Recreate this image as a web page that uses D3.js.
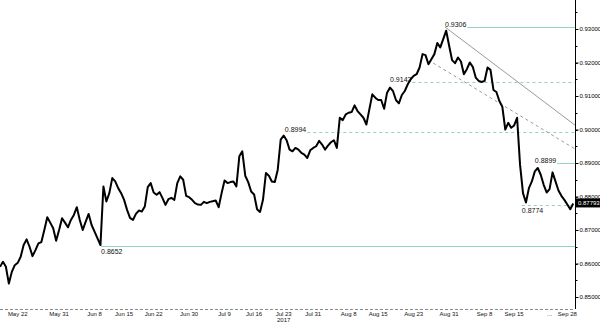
<!DOCTYPE html>
<html>
<head>
<meta charset="utf-8">
<script src="https://cdn.jsdelivr.net/npm/d3@7"></script>
<style>
    html, body { margin: 0; padding: 0; background: #fff; }
    #chart { width: 600px; height: 323px; }
    text { font-family: "Liberation Sans", Arial, sans-serif; }
</style>
</head>
<body>
<div id="chart"></div>
<script>
// --- EUR/GBP style price chart, May - Sep 2017 ---

// x values are trading days (weekdays) counted from Mon 22 May 2017
const seriesStart = -3;
const seriesStep = 0.5;
const closes = [
    0.8590, 0.8605, 0.8590, 0.8540, 0.8575, 0.8595, 0.8602, 0.8620, 0.8655, 0.8672,
    0.8650, 0.8622, 0.8640, 0.8660, 0.8664, 0.8700, 0.8738, 0.8722, 0.8705, 0.8668,
    0.8700, 0.8735, 0.8722, 0.8708, 0.8730, 0.8745, 0.8768, 0.8730, 0.8700, 0.8725,
    0.8748, 0.8715, 0.8695, 0.8675, 0.8655, 0.8830, 0.8785, 0.8810, 0.8855, 0.8845,
    0.8825, 0.8810, 0.8790, 0.8760, 0.8736, 0.8730, 0.8748, 0.8758, 0.8755, 0.8770,
    0.8828, 0.8840, 0.8812, 0.8805, 0.8813, 0.8795, 0.8775, 0.8792, 0.8796, 0.8790,
    0.8840, 0.8860, 0.8850, 0.8802, 0.8798, 0.8790, 0.8780, 0.8776, 0.8775, 0.8784,
    0.8780, 0.8784, 0.8786, 0.8788, 0.8768, 0.8810, 0.8848, 0.8840, 0.8843, 0.8845,
    0.8830, 0.8920, 0.8935, 0.8862, 0.8843, 0.8815, 0.8806, 0.8762, 0.8754, 0.8790,
    0.8870, 0.8862, 0.8845, 0.8843, 0.8880, 0.8970, 0.8982, 0.8968, 0.8940, 0.8935,
    0.8945, 0.8940, 0.8930, 0.8925, 0.8915, 0.8938, 0.8945, 0.8950, 0.8966, 0.8955,
    0.8940, 0.8952, 0.8962, 0.8968, 0.8945, 0.9035, 0.9028, 0.9045, 0.9050, 0.9052,
    0.9072, 0.9055, 0.9045, 0.9035, 0.9015, 0.9060, 0.9105, 0.9095, 0.9088, 0.9088,
    0.9062, 0.9110, 0.9125, 0.9115, 0.9088, 0.9078, 0.9103, 0.9115, 0.9135, 0.9150,
    0.9160, 0.9165, 0.9185, 0.9225, 0.9222, 0.9195, 0.9210, 0.9225, 0.9258, 0.9245,
    0.9270, 0.9295, 0.9250, 0.9207, 0.9198, 0.9215, 0.9203, 0.9165, 0.9180, 0.9200,
    0.9187, 0.9155, 0.9145, 0.9142, 0.9145, 0.9185, 0.9178, 0.9118, 0.9112, 0.9085,
    0.9068, 0.9000, 0.9020, 0.9005, 0.9012, 0.9035, 0.8895, 0.8810, 0.8782, 0.8825,
    0.8845, 0.8875, 0.8885, 0.8865, 0.8835, 0.8812, 0.8822, 0.8872, 0.8845, 0.8818,
    0.8802, 0.8790, 0.8776, 0.8762, 0.8779
];
const lastPrice = 0.87793;

// marked highs / lows and the trading day where each label sits
const levels = [0.9306, 0.9142, 0.8994, 0.8899, 0.8774, 0.8652];
const levelDays = [72.3, 63.0, 45.2, 87.5, 85.3, 14.1];
const levelBelow = [false, false, false, false, true, true];
const dashedLevels = [0.9142, 0.8994, 0.8774];

// trend lines as [day, price] pairs
const trendSolid = [[72.3, 0.9306], [94.3, 0.9013]];
const trendDashed = [[70.3, 0.91985], [94.3, 0.8942]];

const tickLabels = ["May 22", "May 31", "Jun 8", "Jun 15", "Jun 22", "Jun 30", "Jul 9", "Jul 16", "Jul 23",
    "Jul 31", "Aug 8", "Aug 15", "Aug 23", "Aug 31", "Sep 8", "Sep 15", "...", "Sep 28"];
const tickDates = ["2017-05-22", "2017-05-31", "2017-06-08", "2017-06-15", "2017-06-22", "2017-06-30",
    "2017-07-09", "2017-07-16", "2017-07-23", "2017-07-31", "2017-08-08", "2017-08-15", "2017-08-23",
    "2017-08-31", "2017-09-08", "2017-09-15", "2017-09-25", "2017-09-28"];
const yearLabel = "2017";
const yearLabelDate = "2017-07-23";

const yTicks = [0.85, 0.86, 0.87, 0.88, 0.89, 0.90, 0.91, 0.92, 0.93];

(function () {
    const width = 600, height = 323;
    const plotRight = 575, plotBottom = 309;
    const levelColor = "#93d3c3";
    const trendColor = "#9a9a9a";

    // weekday count from the first tick date
    const origin = new Date("2017-05-22T00:00:00");
    const tradingDay = (s) => {
        const d = new Date(s + "T00:00:00");
        let n = 0;
        for (let t = new Date(origin); t < d; t.setDate(t.getDate() + 1)) {
            const wd = t.getDay();
            if (wd !== 0 && wd !== 6) n++;
        }
        return n;
    };

    const svg = d3.select("#chart").append("svg")
        .attr("width", width)
        .attr("height", height);

    const x = d3.scaleLinear().domain([-3, 94.3]).range([0, plotRight]);
    const y = d3.scaleLinear().domain([0.85, 0.93]).range([297, 29]);

    const series = closes.map((v, i) => ({ day: seriesStart + i * seriesStep, value: v }));

    // horizontal levels
    const levelG = svg.append("g");
    levels.forEach((lv, i) => {
        const tx = x(levelDays[i]);
        const ly = Math.round(y(lv)) + 0.5;
        const label = levelG.append("text")
            .attr("x", tx)
            .attr("y", levelBelow[i] ? ly + 7 : ly - 1)
            .attr("font-size", 7)
            .attr("fill", "#111")
            .text(lv.toFixed(4));
        const lineStart = levelBelow[i] ? tx : tx + label.node().getComputedTextLength() + 1;
        levelG.append("line")
            .attr("x1", lineStart).attr("x2", plotRight)
            .attr("y1", ly).attr("y2", ly)
            .attr("stroke", levelColor)
            .attr("stroke-width", 1)
            .attr("stroke-dasharray", dashedLevels.includes(lv) ? "3,3" : null);
    });

    // trend lines
    const trendLine = d3.line().x(d => x(d[0])).y(d => y(d[1]));
    svg.append("path").attr("d", trendLine(trendSolid))
        .attr("fill", "none").attr("stroke", trendColor).attr("stroke-width", 1);
    svg.append("path").attr("d", trendLine(trendDashed))
        .attr("fill", "none").attr("stroke", trendColor).attr("stroke-width", 1)
        .attr("stroke-dasharray", "3,3");

    // price
    const priceLine = d3.line().x(d => x(d.day)).y(d => y(d.value));
    svg.append("path")
        .datum(series)
        .attr("d", priceLine)
        .attr("fill", "none")
        .attr("stroke", "#000")
        .attr("stroke-width", 2)
        .attr("stroke-linejoin", "round");

    // right price axis
    const yAxis = d3.axisRight(y)
        .tickValues(yTicks)
        .tickSize(3)
        .tickPadding(1)
        .tickFormat(d3.format(".5f"));
    const yg = svg.append("g")
        .attr("transform", `translate(${plotRight + 0.5},0)`)
        .call(yAxis);
    yg.select(".domain").attr("d", `M0,0V${plotBottom}`).attr("stroke", "#000");
    yg.selectAll("text").attr("font-size", 6).attr("font-family", "Liberation Sans, Arial, sans-serif");
    const minor = d3.range(0.845, 0.94, 0.005).filter(v => y(v) > 2 && y(v) < plotBottom);
    yg.selectAll(".minor").data(minor).join("line")
        .attr("class", "minor")
        .attr("x1", 0).attr("x2", 2)
        .attr("y1", d => Math.round(y(d)) + 0.5).attr("y2", d => Math.round(y(d)) + 0.5)
        .attr("stroke", "#000");

    // last price tag
    const lp = y(lastPrice);
    svg.append("rect")
        .attr("x", plotRight + 1).attr("y", lp - 5)
        .attr("width", width - plotRight - 1).attr("height", 9)
        .attr("fill", "#000");
    svg.append("text")
        .attr("x", plotRight + 3).attr("y", lp + 2)
        .attr("font-size", 6).attr("fill", "#fff")
        .text(d3.format(".5f")(lastPrice));

    // bottom date axis
    const xg = svg.append("g");
    xg.append("line")
        .attr("x1", 0).attr("x2", plotRight)
        .attr("y1", plotBottom + 0.5).attr("y2", plotBottom + 0.5)
        .attr("stroke", "#8a8a8a")
        .attr("stroke-dasharray", "3,2");
    const ticks = tickDates.map((d, i) => ({ label: tickLabels[i], day: tradingDay(d) }));
    xg.selectAll(".xt").data(ticks).join("text")
        .attr("class", "xt")
        .attr("x", d => Math.min(x(d.day), plotRight - 7))
        .attr("y", plotBottom + 7)
        .attr("text-anchor", "middle")
        .attr("font-size", 6)
        .attr("fill", "#111")
        .text(d => d.label);
    xg.append("text")
        .attr("x", x(tradingDay(yearLabelDate)))
        .attr("y", plotBottom + 13)
        .attr("text-anchor", "middle")
        .attr("font-size", 6)
        .attr("fill", "#111")
        .text(yearLabel);
})();
</script>
</body>
</html>
